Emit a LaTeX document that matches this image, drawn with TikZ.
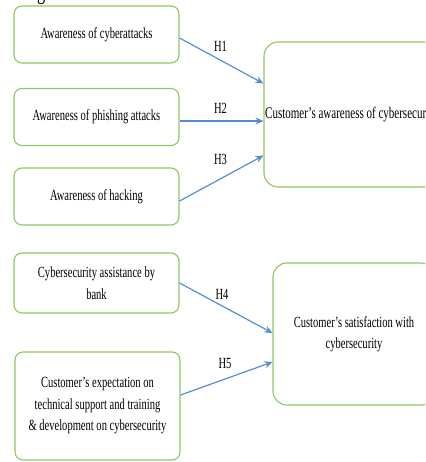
\documentclass[tikz,border=0pt]{standalone}
\usepackage{fontspec}
\setmainfont{Liberation Serif}[FakeStretch=0.68]
\usetikzlibrary{arrows.meta}
\definecolor{boxgreen}{RGB}{146,196,100}
\definecolor{arrowblue}{RGB}{84,141,212}
\begin{document}
\begin{tikzpicture}[x=1pt,y=-1pt,
  txt/.style={font=\fontsize{15.5}{21.5}\selectfont, align=center},
  lbox/.style={draw=boxgreen, line width=1.1pt, rounded corners=8pt,
    minimum width=165pt, minimum height=57pt, inner sep=0pt, txt},
  rbox/.style={draw=boxgreen, line width=1.1pt, rounded corners=14pt,
    inner sep=0pt, txt},
  link/.style={draw=arrowblue, line width=1.2pt,
    -{Stealth[length=8pt,width=7pt]}},
  hlab/.style={txt, inner sep=0pt}]
\useasboundingbox (0,0) rectangle (425,462);
\clip (0,0) rectangle (425,462);
% cut-off caption letter at the top
\node[anchor=base west, inner sep=0pt, font=\fontsize{24}{28}\selectfont] (cap) at (37,0) {g};
% left boxes
\node[lbox] (b1) at (96.5,34.5) {Awareness of cyberattacks};
\node[lbox] (b2) at (96.5,117) {Awareness of phishing attacks};
\node[lbox] (b3) at (96.5,196.5) {Awareness of hacking};
\node[lbox, minimum height=60pt] (b4) at (96.5,283) {Cybersecurity assistance by\\bank};
\node[lbox, minimum height=108pt] (b5) at (97.5,406) {Customer’s expectation on\\technical support and training\\\& development on cybersecurity};
% right boxes
\node[rbox, minimum width=176pt, minimum height=145pt] (r1) at (352,114.5) {};
\node[txt, anchor=west, inner sep=0pt, font=\fontsize{16.2}{21.5}\selectfont] (r1t) at (265,115) {Customer’s awareness of cybersecurity};
\node[rbox, minimum width=162pt, minimum height=142pt] (r2) at (354,334) {Customer’s satisfaction with\\cybersecurity};
% connectors
\draw[link] ([yshift=-3.5pt]b1.east) -- ([yshift=31pt]r1.west);
\draw[link] ([yshift=-4pt]b2.east) -- ([yshift=-6.5pt]r1.west);
\draw[link] ([yshift=-4.5pt]b3.east) -- ([yshift=-41pt]r1.west);
\draw[link] (b4.east) -- ([yshift=1pt]r2.west);
\draw[link] ([yshift=11pt]b5.east) -- ([yshift=-28pt]r2.west);
% labels
\node[hlab] (h1) at (220.5,46) {H1};
\node[hlab] (h2) at (220.5,108) {H2};
\node[hlab] (h3) at (220.5,159) {H3};
\node[hlab] (h4) at (222,294) {H4};
\node[hlab] (h5) at (225,363) {H5};
\end{tikzpicture}
\end{document}
